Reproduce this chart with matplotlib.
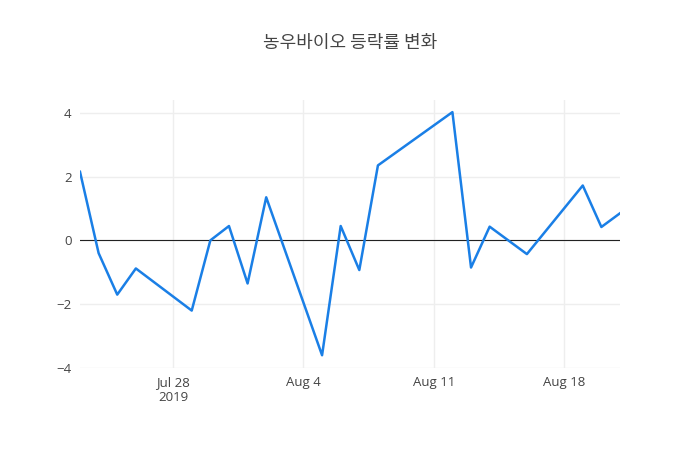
import matplotlib
matplotlib.use("Agg")
import matplotlib.pyplot as plt
import pandas as pd

plt.rcParams['font.family'] = ['Open Sans', 'Noto Sans CJK KR', 'DejaVu Sans']

dates = ["2019-07-23","2019-07-24","2019-07-25","2019-07-26","2019-07-29","2019-07-30",
         "2019-07-31","2019-08-01","2019-08-02","2019-08-05","2019-08-06","2019-08-07",
         "2019-08-08","2019-08-12","2019-08-13","2019-08-14","2019-08-16","2019-08-19",
         "2019-08-20","2019-08-21"]
values = [2.15,-0.4,-1.7,-0.88,-2.2,0.0,0.45,-1.35,1.35,-3.6,0.45,-0.93,2.35,4.02,
          -0.85,0.43,-0.43,1.72,0.42,0.85]
title = "농우바이오 등락률 변화"

x = pd.to_datetime(dates)
fig = plt.figure(figsize=(7, 4.5), dpi=100)
ax = fig.add_axes([80/700, 82/450, 540/700, 268/450])
ax.plot(x, values, color='#1a7fe6', lw=1.8)
ax.axhline(0, color='#222222', lw=0.8, zorder=1)
ax.set_xlim(x[0], x[-1])
ax.set_ylim(-4, 4.4)
ax.set_yticks([-4, -2, 0, 2, 4])
ax.set_yticklabels(['−4', '−2', '0', '2', '4'])
ticks = pd.to_datetime(["2019-07-28","2019-08-04","2019-08-11","2019-08-18"])
ax.set_xticks(ticks)
ax.set_xticklabels(["Jul 28\n2019", "Aug 4", "Aug 11", "Aug 18"])
ax.grid(True, color='#eeeeee', lw=1)
ax.set_axisbelow(True)
for s in ax.spines.values():
    s.set_visible(False)
ax.tick_params(length=0, colors='#444444', labelsize=9.5, pad=6)
fig.text(0.5, 1 - 43/450, title, ha='center', va='center', fontsize=13, color='#444444',
         family=['Noto Sans CJK KR', 'DejaVu Sans'])
fig.savefig("out.png")
